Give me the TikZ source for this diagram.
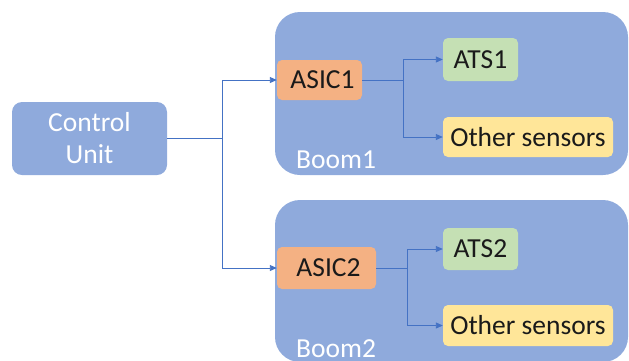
\documentclass[tikz,border=0pt]{standalone}
\usepackage{fontspec}
\setmainfont{Carlito}
\usetikzlibrary{arrows.meta}
\definecolor{boomblue}{HTML}{8FAADC}
\definecolor{lineblue}{HTML}{4472C4}
\definecolor{asicor}{HTML}{F4B183}
\definecolor{atsgreen}{HTML}{C5E0B4}
\definecolor{othyellow}{HTML}{FFE699}
\definecolor{txtdark}{HTML}{1A1A1A}
\tikzset{
  box/.style={rectangle, inner sep=0pt, font=\fontsize{27.5}{32}\selectfont, text=txtdark},
  conn/.style={draw=lineblue, line width=0.9pt, -{Triangle[length=7pt,width=6pt]}},
  connplain/.style={draw=lineblue, line width=0.9pt},
}
\begin{document}
\begin{tikzpicture}[x=1pt,y=-1pt]
\useasboundingbox (0,0) rectangle (629,360);
\clip (0,0) rectangle (629,360);
% boom containers
\node[box, fill=boomblue, rounded corners=25pt, minimum width=353pt, minimum height=163pt] (boom1) at (451.5,93.5) {};
\node[box, fill=boomblue, rounded corners=25pt, minimum width=353pt, minimum height=162pt] (boom2) at (451.5,281) {};
\node[box, text=white, anchor=base west] (boom1lbl) at (296,168) {Boom1};
\node[box, text=white, anchor=base west] (boom2lbl) at (296,357) {Boom2};
% control unit
\node[box, fill=boomblue, text=white, rounded corners=10pt, minimum width=155pt, minimum height=73pt, align=center] (cu) at (89.5,138.5) {Control\\Unit};
% asics
\node[box, fill=asicor, rounded corners=5pt, minimum width=85pt, minimum height=40pt] (asic1) at (319.5,80) {\hspace*{6pt}ASIC1};
\node[box, fill=asicor, rounded corners=5pt, minimum width=99pt, minimum height=42pt] (asic2) at (326.5,268) {\hspace*{4pt}ASIC2};
% sensors
\node[box, fill=atsgreen, rounded corners=5pt, minimum width=75pt, minimum height=43pt] (ats1) at (480.5,59.5) {ATS1};
\node[box, fill=othyellow, rounded corners=5pt, minimum width=170pt, minimum height=40pt] (oth1) at (528,137) {Other sensors};
\node[box, fill=atsgreen, rounded corners=5pt, minimum width=75pt, minimum height=42pt] (ats2) at (480.5,249) {ATS2};
\node[box, fill=othyellow, rounded corners=5pt, minimum width=170pt, minimum height=41pt] (oth2) at (528,325.5) {Other sensors};
% connectors
\coordinate (cuj) at (222,138.5);
\coordinate (a1j) at (403,80);
\coordinate (a2j) at (407,268);
\draw[connplain] (cu.east) -- (cuj);
\draw[conn] (cuj) |- (asic1.west);
\draw[conn] (cuj) |- (asic2.west);
\draw[connplain] (asic1.east) -- (a1j);
\draw[conn] (a1j) |- (ats1.west);
\draw[conn] (a1j) |- (oth1.west);
\draw[connplain] (asic2.east) -- (a2j);
\draw[conn] (a2j) |- (ats2.west);
\draw[conn] (a2j) |- (oth2.west);
\end{tikzpicture}
\end{document}
